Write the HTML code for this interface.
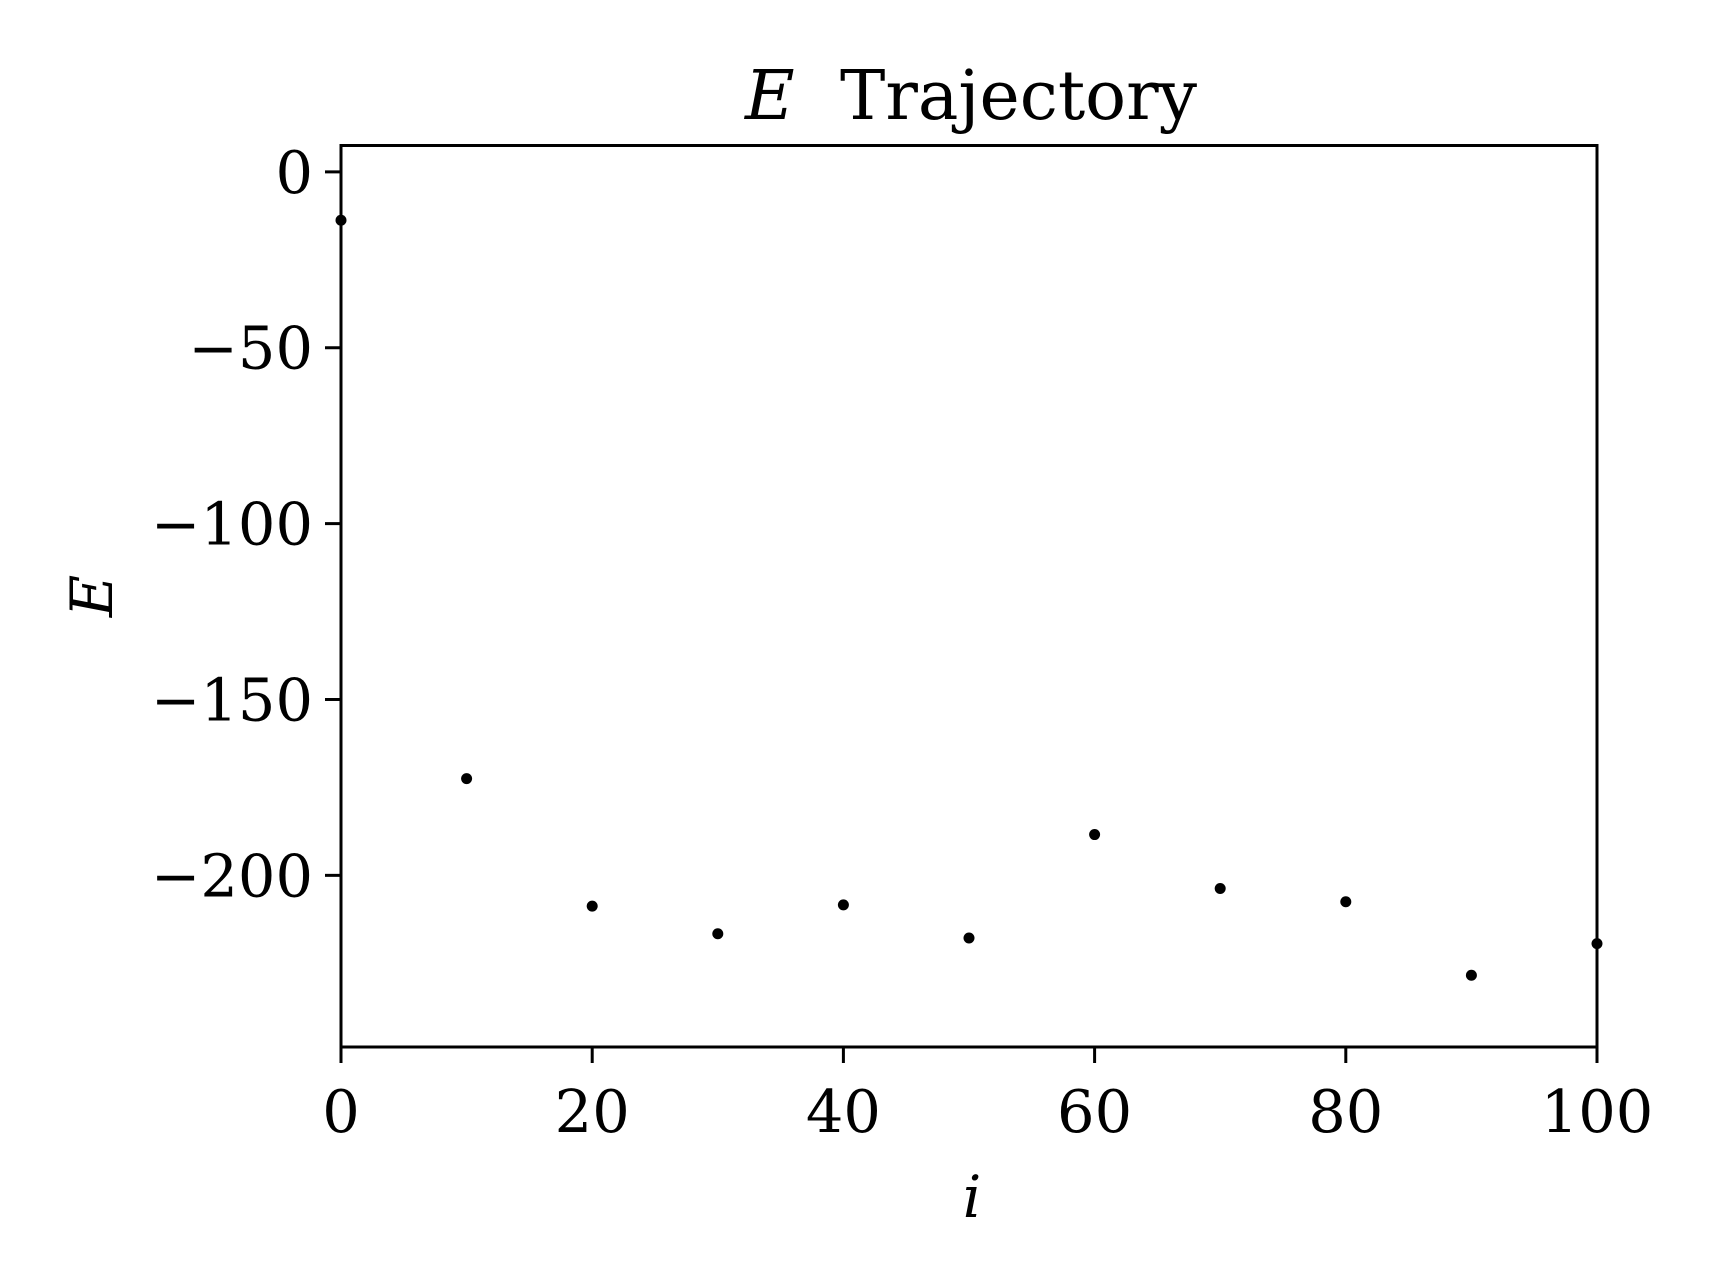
<!DOCTYPE html>
<html><head><meta charset="utf-8"><style>
html,body{margin:0;padding:0;background:#fff;}
svg{display:block;font-family:"DejaVu Serif","Liberation Serif",serif;}
</style></head><body>
<svg id="chart" width="1715" height="1286" viewBox="0 0 1715 1286">
<rect x="0" y="0" width="1715" height="1286" fill="#fff"/>
<text x="745" y="119" font-size="68"><tspan font-style="italic">E</tspan><tspan x="840">Trajectory</tspan></text>
<g id="ticks"></g>
<g id="points"></g>
<rect x="341" y="145.5" width="1256" height="901.5" fill="none" stroke="#000" stroke-width="3"/>
<text x="972" y="1217" font-size="58" font-style="italic" text-anchor="middle">i</text>
<text x="0" y="0" font-size="58" font-style="italic" text-anchor="middle" transform="translate(112,596) rotate(-90)">E</text>
</svg>
<script>
const xValues = [0,10,20,30,40,50,60,70,80,90,100];
const eValues = [-13.75,-172.5,-208.75,-216.6,-208.4,-217.8,-188.4,-203.75,-207.5,-228.4,-219.4];
const xTicks = [0,20,40,60,80,100];
const yTicks = [0,-50,-100,-150,-200];
const yTickLabels = ["0","\u221250","\u2212100","\u2212150","\u2212200"];
const xMin=0,xMax=100,yMin=-248.8,yMax=7.5;
const L=341,R=1597,T=145.5,B=1047;
const NS="http://www.w3.org/2000/svg";
function sx(v){return L+(v-xMin)/(xMax-xMin)*(R-L);}
function sy(v){return B-(v-yMin)/(yMax-yMin)*(B-T);}
const tg=document.getElementById('ticks');
xTicks.forEach(t=>{
  const l=document.createElementNS(NS,'line');
  l.setAttribute('x1',sx(t));l.setAttribute('x2',sx(t));l.setAttribute('y1',B);l.setAttribute('y2',B+16);
  l.setAttribute('stroke','#000');l.setAttribute('stroke-width','3');
  
  
  tg.appendChild(l);
  const tx=document.createElementNS(NS,'text');
  tx.setAttribute('x',sx(t));tx.setAttribute('y',1132);tx.setAttribute('font-size','59');tx.setAttribute('text-anchor','middle');
  tx.textContent=String(t);
  
  
  tg.appendChild(tx);
});
yTicks.forEach((t,i)=>{
  const l=document.createElementNS(NS,'line');
  l.setAttribute('x1',L-16);l.setAttribute('x2',L);l.setAttribute('y1',sy(t));l.setAttribute('y2',sy(t));
  l.setAttribute('stroke','#000');l.setAttribute('stroke-width','3');
  
  
  tg.appendChild(l);
  const tx=document.createElementNS(NS,'text');
  tx.setAttribute('x',L-28);tx.setAttribute('y',sy(t)+21);tx.setAttribute('font-size','59');tx.setAttribute('text-anchor','end');
  tx.textContent=yTickLabels[i];
  
  
  tg.appendChild(tx);
});
const pg=document.getElementById('points');
xValues.forEach((x,i)=>{
  const c=document.createElementNS(NS,'circle');
  c.setAttribute('cx',sx(x));c.setAttribute('cy',sy(eValues[i]));c.setAttribute('r','5.5');c.setAttribute('fill','#000');
  
  
  pg.appendChild(c);
});
</script>
</body></html>
